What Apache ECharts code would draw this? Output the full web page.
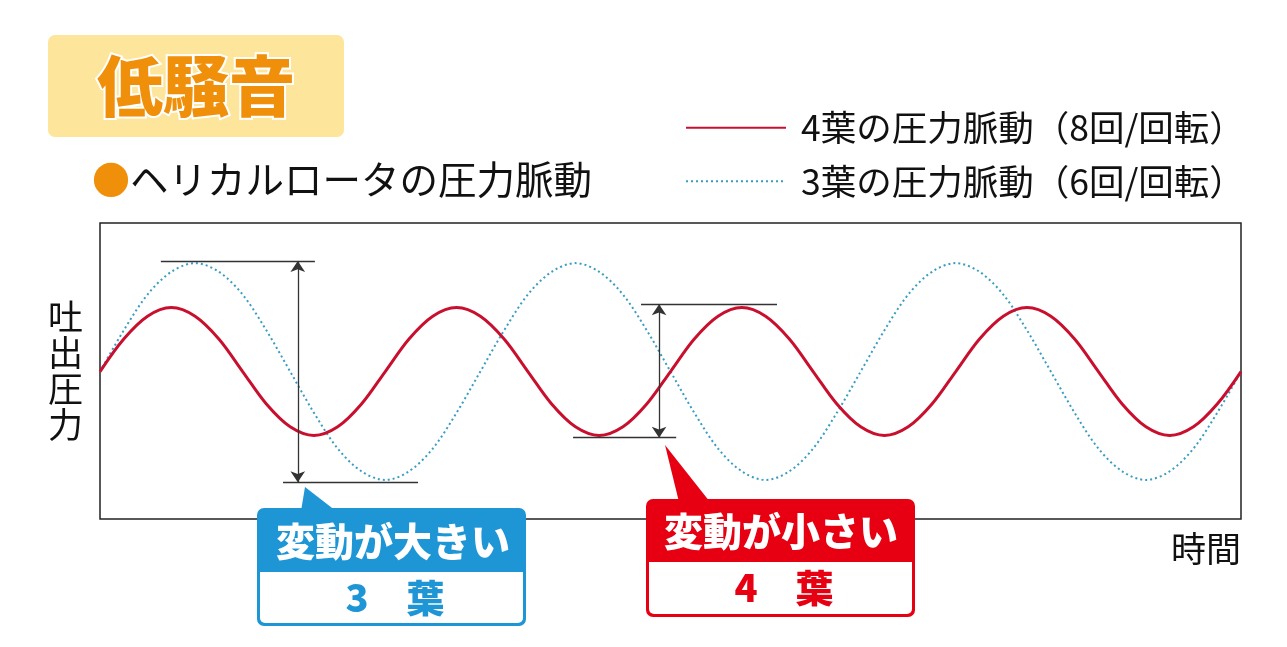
<!DOCTYPE html>
<html>
<head>
<meta charset="utf-8">
<title>低騒音</title>
<script src="https://cdn.jsdelivr.net/npm/echarts@6/dist/echarts.min.js"></script>
<style>
  html, body { margin: 0; padding: 0; background: #fff; }
</style>
</head>
<body>
<div id="main" style="width: 1287px; height: 647px;"></div>
<script type="text/javascript">

// shared time samples (one rotation window = 24)
var time = [0, 0.5, 1, 1.5, 2, 2.5, 3, 3.5, 4, 4.5, 5, 5.5,
  6, 6.5, 7, 7.5, 8, 8.5, 9, 9.5, 10, 10.5, 11, 11.5,
  12, 12.5, 13, 13.5, 14, 14.5, 15, 15.5, 16, 16.5, 17, 17.5,
  18, 18.5, 19, 19.5, 20, 20.5, 21, 21.5, 22, 22.5, 23, 23.5, 24];

// 4葉: 8回/回転 -> 4 small waves
var redPressure = [0, 0.30, 0.51, 0.59, 0.51, 0.30, 0, -0.30, -0.51, -0.59, -0.51, -0.30,
  0, 0.30, 0.51, 0.59, 0.51, 0.30, 0, -0.30, -0.51, -0.59, -0.51, -0.30,
  0, 0.30, 0.51, 0.59, 0.51, 0.30, 0, -0.30, -0.51, -0.59, -0.51, -0.30,
  0, 0.30, 0.51, 0.59, 0.51, 0.30, 0, -0.30, -0.51, -0.59, -0.51, -0.30, 0];

// 3葉: 6回/回転 -> 3 large waves
var bluePressure = [0, 0.38, 0.71, 0.92, 1, 0.92, 0.71, 0.38, 0, -0.38, -0.71, -0.92, -1, -0.92, -0.71, -0.38,
  0, 0.38, 0.71, 0.92, 1, 0.92, 0.71, 0.38, 0, -0.38, -0.71, -0.92, -1, -0.92, -0.71, -0.38,
  0, 0.38, 0.71, 0.92, 1, 0.92, 0.71, 0.38, 0, -0.38, -0.71, -0.92, -1, -0.92, -0.71, -0.38, 0];

var seriesNames = ['4葉の圧力脈動（8回/回転）', '3葉の圧力脈動（6回/回転）'];

// amplitude markers [x1, x2, y]
var blueSpanTop = [1.28, 4.52, 1.02];
var blueSpanBottom = [3.85, 6.69, -1.02];
var blueArrowX = 4.16;
var redSpanTop = [11.38, 14.24, 0.62];
var redSpanBottom = [9.95, 12.12, -0.61];
var redArrowX = 11.76;

var FONT = '"Noto Sans CJK JP", "Noto Sans", sans-serif';
var RED = '#c8102e';
var BLUE = '#3a9cc0';

function pairs(xs, ys) {
  var out = [];
  for (var i = 0; i < xs.length; i++) out.push([xs[i], ys[i]]);
  return out;
}

function span(s) {
  return [{ coord: [s[0], s[2]], symbol: 'none' }, { coord: [s[1], s[2]], symbol: 'none' }];
}

var chartDom = document.getElementById('main');
var myChart = echarts.init(chartDom);
var option;

option = {
  animation: false,
  textStyle: { fontFamily: FONT },
  title: [
    {
      text: '低騒音',
      left: 50,
      top: 35,
      padding: [16, 47, 16, 47],
      backgroundColor: '#fde59c',
      borderRadius: 7,
      textStyle: {
        fontFamily: FONT,
        fontSize: 66,
        fontWeight: 900,
        lineHeight: 70,
        color: '#f0900a',
        textBorderColor: '#fff',
        textBorderWidth: 4
      }
    },
    {
      text: '{dot|●}ヘリカルロータの圧力脈動',
      left: 92,
      top: 160,
      padding: 0,
      textStyle: {
        fontFamily: FONT,
        fontSize: 38.5,
        fontWeight: 'normal',
        color: '#111',
        rich: {
          dot: { fontFamily: FONT, fontSize: 38, color: '#f0900a' }
        }
      }
    }
  ],
  legend: {
    data: seriesNames,
    orient: 'vertical',
    left: 680,
    top: 105,
    itemWidth: 100,
    itemHeight: 14,
    itemGap: 18,
    itemStyle: { opacity: 0 },
    textStyle: {
      fontFamily: FONT,
      fontSize: 35.5,
      color: '#111',
      padding: [0, 0, 0, 10]
    }
  },
  grid: {
    left: 100,
    right: 46,
    top: 223,
    bottom: 128,
    show: true,
    borderColor: '#222',
    borderWidth: 1.5,
    backgroundColor: 'transparent'
  },
  xAxis: {
    type: 'value',
    min: 0,
    max: 24,
    name: '時間',
    nameLocation: 'end',
    nameGap: 0,
    nameTextStyle: {
      fontFamily: FONT,
      fontSize: 35,
      color: '#111',
      align: 'right',
      verticalAlign: 'top',
      padding: [12, 0, 0, 0]
    },
    axisLine: { show: false, onZero: false },
    axisTick: { show: false },
    axisLabel: { show: false },
    splitLine: { show: false }
  },
  yAxis: {
    type: 'value',
    min: -1.36,
    max: 1.37,
    name: '吐\n出\n圧\n力',
    nameLocation: 'middle',
    nameRotate: 0,
    nameGap: 17,
    nameTextStyle: {
      fontFamily: FONT,
      fontSize: 35,
      lineHeight: 36,
      color: '#111',
      align: 'right'
    },
    axisLine: { show: false, onZero: false },
    axisTick: { show: false },
    axisLabel: { show: false },
    splitLine: { show: false }
  },
  series: [
    {
      name: seriesNames[1],
      type: 'line',
      smooth: 0.33,
      symbol: 'none',
      data: pairs(time, bluePressure),
      lineStyle: { color: BLUE, width: 2, type: [2, 3] },
      itemStyle: { color: BLUE },
      z: 2,
      markLine: {
        silent: true,
        label: { show: false },
        symbol: ['arrow', 'arrow'],
        symbolSize: 11,
        lineStyle: { color: '#333', width: 1.3, type: 'solid' },
        data: [
          span(blueSpanTop),
          span(blueSpanBottom),
          [{ coord: [blueArrowX, blueSpanTop[2]] }, { coord: [blueArrowX, blueSpanBottom[2]] }]
        ]
      }
    },
    {
      name: seriesNames[0],
      type: 'line',
      smooth: 0.33,
      symbol: 'none',
      data: pairs(time, redPressure),
      lineStyle: { color: RED, width: 3 },
      itemStyle: { color: RED },
      z: 3,
      markLine: {
        silent: true,
        label: { show: false },
        symbol: ['arrow', 'arrow'],
        symbolSize: 11,
        lineStyle: { color: '#333', width: 1.3, type: 'solid' },
        data: [
          [{ yAxis: 0, symbol: 'none', lineStyle: { color: '#c8c8c8', width: 1, type: [2, 2] } },
           { x: 1241, symbol: 'none' }],
          span(redSpanTop),
          span(redSpanBottom),
          [{ coord: [redArrowX, redSpanTop[2]] }, { coord: [redArrowX, redSpanBottom[2]] }]
        ]
      }
    }
  ],
  graphic: [
    // 3葉 callout
    { type: 'polygon', z: 10, shape: { points: [[305, 487], [301, 511], [336, 511]] }, style: { fill: '#1e96d6' } },
    { type: 'rect', z: 10, shape: { x: 257, y: 508, width: 269, height: 118, r: 7 }, style: { fill: '#1e96d6' } },
    { type: 'rect', z: 11, shape: { x: 260, y: 572, width: 263, height: 51, r: [0, 0, 5, 5] }, style: { fill: '#fff' } },
    { type: 'text', z: 12, style: { text: '変動が大きい', x: 393, y: 541, align: 'center', verticalAlign: 'middle', font: '900 39px ' + FONT, fill: '#fff' } },
    { type: 'text', z: 12, style: { text: '3　葉', x: 395, y: 598, align: 'center', verticalAlign: 'middle', font: '900 38px ' + FONT, fill: '#1e96d6' } },
    // 4葉 callout
    { type: 'polygon', z: 10, shape: { points: [[665, 445], [679, 502], [710, 502]] }, style: { fill: '#e60012' } },
    { type: 'rect', z: 10, shape: { x: 646, y: 499, width: 269, height: 118, r: 7 }, style: { fill: '#e60012' } },
    { type: 'rect', z: 11, shape: { x: 649, y: 562, width: 263, height: 52, r: [0, 0, 5, 5] }, style: { fill: '#fff' } },
    { type: 'text', z: 12, style: { text: '変動が小さい', x: 781, y: 531, align: 'center', verticalAlign: 'middle', font: '900 39px ' + FONT, fill: '#fff' } },
    { type: 'text', z: 12, style: { text: '4　葉', x: 784, y: 588, align: 'center', verticalAlign: 'middle', font: '900 38px ' + FONT, fill: '#e60012' } }
  ]
};

option && myChart.setOption(option);
</script>
</body>
</html>
